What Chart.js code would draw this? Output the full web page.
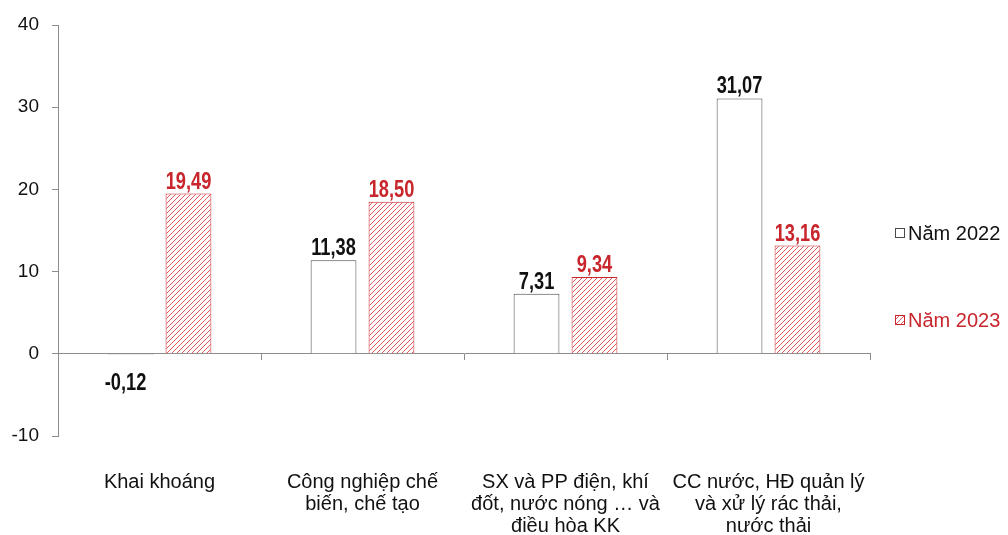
<!DOCTYPE html>
<html>
<head>
<meta charset="utf-8">
<script src="https://cdn.jsdelivr.net/npm/chart.js@4.4.1/dist/chart.umd.min.js"></script>
<style>
  html, body { margin: 0; padding: 0; background: #fff; }
  #wrap { width: 1008px; height: 535px; }
</style>
</head>
<body>
<div id="wrap"><canvas id="chart" width="1008" height="535"></canvas></div>
<script>
// categories and values
const categories = [
    ["Khai khoáng"],
    ["Công nghiệp chế", "biến, chế tạo"],
    ["SX và PP điện, khí", "đốt, nước nóng … và", "điều hòa KK"],
    ["CC nước, HĐ quản lý", "và xử lý rác thải,", "nước thải"],
];
const values2022 = [-0.12, 11.38, 7.31, 31.07];
const values2023 = [19.49, 18.50, 9.34, 13.16];
const seriesNames = ["Năm 2022", "Năm 2023"];
const yTicks = [-10, 0, 10, 20, 30, 40];

const RED = "#c8262c";
const RED_LINE = "#e4585c";
const DARK = "#4a4a4a";
const AXIS = "#8c8c8c";
const FONT = "'Liberation Sans', Arial, sans-serif";

function hatch() {
    const c = document.createElement("canvas");
    c.width = 5;
    c.height = 5;
    const g = c.getContext("2d");
    g.fillStyle = "#fff";
    g.fillRect(0, 0, 5, 5);
    g.strokeStyle = RED_LINE;
    g.lineWidth = 1;
    g.beginPath();
    g.moveTo(0, 5); g.lineTo(5, 0);
    g.moveTo(-1, 1); g.lineTo(1, -1);
    g.moveTo(4, 6); g.lineTo(6, 4);
    g.stroke();
    return g.createPattern(c, "repeat");
}
const hatchFill = hatch();

const fmt = (v) => v.toFixed(2).replace(".", ",");

// condensed bold text: squeeze a normal bold face horizontally
function narrowText(ctx, text, x, y) {
    ctx.save();
    ctx.translate(x, y);
    ctx.scale(0.76, 1);
    ctx.fillText(text, 0, 0);
    ctx.restore();
}

// value labels above (or below) the bars
const valueLabels = {
    id: "valueLabels",
    afterDatasetsDraw(chart) {
        const ctx = chart.ctx;
        ctx.save();
        ctx.font = "bold 24px " + FONT;
        ctx.textAlign = "center";
        chart.data.datasets.forEach((ds, i) => {
            const meta = chart.getDatasetMeta(i);
            ctx.fillStyle = i === 0 ? "#111" : RED;
            meta.data.forEach((bar, j) => {
                const v = ds.data[j];
                if (v >= 0) {
                    ctx.textBaseline = "alphabetic";
                    narrowText(ctx, fmt(v), bar.x, bar.y - 5);
                } else {
                    ctx.textBaseline = "top";
                    narrowText(ctx, fmt(v), bar.x - 5, bar.y + 17);
                }
            });
        });
        ctx.restore();
    },
};

// legend at the right side, spaced like the original
const sideLegend = {
    id: "sideLegend",
    afterDraw(chart) {
        const ctx = chart.ctx;
        const items = [
            { text: seriesNames[0], y: 233, fill: "#fff", stroke: DARK, color: "#111" },
            { text: seriesNames[1], y: 320, fill: hatchFill, stroke: RED, color: RED },
        ];
        ctx.save();
        ctx.font = "20px " + FONT;
        ctx.textBaseline = "middle";
        items.forEach((it) => {
            ctx.fillStyle = it.fill;
            ctx.fillRect(895, it.y - 5, 10, 10);
            ctx.strokeStyle = it.stroke;
            ctx.lineWidth = 1;
            ctx.strokeRect(895.5, it.y - 4.5, 9, 9);
            ctx.fillStyle = it.color;
            ctx.fillText(it.text, 908, it.y + 1);
        });
        ctx.restore();
    },
};

new Chart(document.getElementById("chart"), {
    type: "bar",
    data: {
        labels: categories,
        datasets: [
            {
                label: seriesNames[0],
                data: values2022,
                backgroundColor: "#fff",
                borderColor: DARK,
                borderWidth: 1,
            },
            {
                label: seriesNames[1],
                data: values2023,
                backgroundColor: hatchFill,
                borderColor: RED,
                borderWidth: 1,
            },
        ],
    },
    options: {
        responsive: false,
        animation: false,
        categoryPercentage: 0.571,
        barPercentage: 0.79,
        layout: { padding: { top: 25, bottom: 99, left: 0, right: 138 } },
        plugins: {
            legend: { display: false },
            tooltip: { enabled: false },
        },
        scales: {
            x: {
                position: { y: 0 },
                // the big label padding must not widen the plot margins
                afterFit: (s) => { s.paddingLeft = 0; s.paddingRight = 0; },
                grid: { offset: true, drawOnChartArea: false, tickLength: 6, color: AXIS },
                border: { color: AXIS, width: 1 },
                ticks: {
                    color: "#111",
                    font: { family: FONT, size: 20, lineHeight: 1.1 },
                    padding: 112,
                    maxRotation: 0,
                    autoSkip: false,
                },
            },
            y: {
                min: -10,
                max: 40,
                afterFit: (s) => { s.width = 58; },
                afterBuildTicks: (s) => { s.ticks = yTicks.map((v) => ({ value: v })); },
                grid: { drawOnChartArea: false, tickLength: 6, color: AXIS },
                border: { color: AXIS, width: 1 },
                ticks: {
                    color: "#111",
                    font: { family: FONT, size: 19 },
                    padding: 13,
                },
            },
        },
    },
    plugins: [valueLabels, sideLegend],
});
</script>
</body>
</html>
